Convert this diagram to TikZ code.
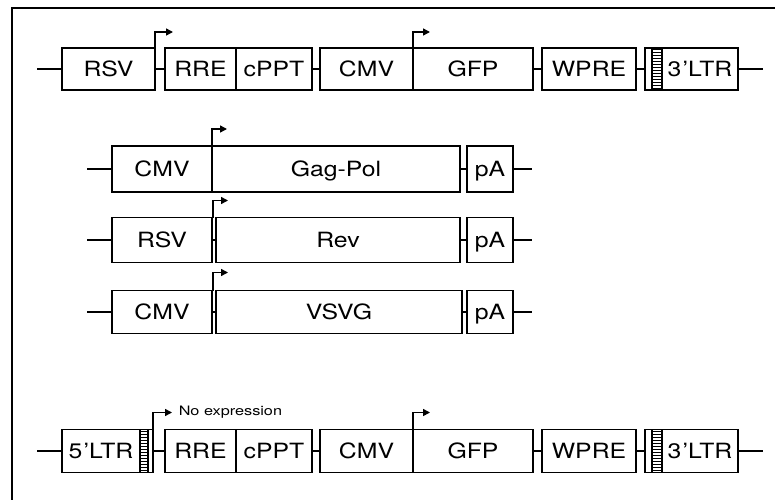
\documentclass[tikz,border=0pt]{standalone}
\usepackage{fontspec}
\usepackage{graphicx}
\usetikzlibrary{arrows.meta,calc}
\newfontfamily\boxfont{TeX Gyre Heros}
\newcommand\wtxt[1]{\scalebox{1.18}[1]{#1}}
\newcommand\wstxt[1]{\scalebox{1.25}[1]{#1}}
\tikzset{
  box/.style={draw, line width=1.5pt, inner sep=0pt, outer sep=0pt, minimum height=#1,
    font=\boxfont\fontsize{21}{21}\selectfont, text height=15pt, text depth=0pt},
  box/.default=43pt,
  wire/.style={line width=1.6pt},
  prom/.style={line width=1.5pt, -{Triangle[length=7pt,width=7pt]}},
  rung/.style={line width=1.1pt},
  frame/.style={line width=2.4pt}
}
\begin{document}
\begin{tikzpicture}[x=1pt,y=-1pt]
\useasboundingbox (0,0) rectangle (775,500);
\draw[frame] (775,8) -- (12,8) -- (12,500);

% ---------- Row 1 ----------
\node[box=42pt, minimum width=93pt] (rsvA) at (108.5,69) {\wtxt{RSV}};
\node[box=42pt, minimum width=71pt] (rreA) at (200.5,69) {\wtxt{RRE}};
\node[box=42pt, minimum width=76pt] (cpptA) at (274,69) {\wtxt{cPPT}};
\node[box=42pt, minimum width=93pt] (cmvA) at (366.5,69) {\wtxt{CMV}};
\node[box=42pt, minimum width=120pt] (gfpA) at (473,69) {\wtxt{GFP}};
\node[box=42pt, minimum width=94pt] (wpreA) at (589,69) {\wtxt{WPRE}};
\node[box=42pt, minimum width=17pt] (hatchA) at (653.5,69) {};
\node[box=42pt, minimum width=76pt] (ltrA) at (700,69) {\wtxt{3\kern1pt\textquoteright LTR}};
\coordinate (lA) at (37,69);
\coordinate (rA) at (763,69);
\draw[wire] (lA) -- (rsvA.west);
\draw[wire] (rsvA.east) -- (rreA.west);
\draw[wire] (cpptA.east) -- (cmvA.west);
\draw[wire] (gfpA.east) -- (wpreA.west);
\draw[wire] (wpreA.east) -- (hatchA.west);
\draw[wire] (ltrA.east) -- (rA);
\draw[line width=1.2pt] (652,48) -- (652,90);
\foreach \k in {0,...,13} \draw[rung] (652,{49.5+3*\k}) -- (662,{49.5+3*\k});
\draw[prom] (rsvA.north east) -- ++(0,-16) -- ++(18,0);
\draw[prom] (gfpA.north west) -- ++(0,-16) -- ++(17,0);

% ---------- Row 2 ----------
\node[box=46pt, minimum width=100pt] (cmvB) at (162,169) {\wtxt{CMV}};
\node[box=46pt, minimum width=248pt] (gagB) at (336,169) {\wtxt{Gag-Pol}};
\node[box=46pt, minimum width=46pt] (paB) at (490,169) {\wtxt{pA}};
\coordinate (lB) at (87,169);
\coordinate (rB) at (532,169);
\draw[wire] (lB) -- (cmvB.west);
\draw[wire] (gagB.east) -- (paB.west);
\draw[wire] (paB.east) -- (rB);
\draw[prom] (cmvB.north east) -- ++(0,-17) -- ++(15,0);

% ---------- Row 3 ----------
\node[box=45pt, minimum width=100pt] (rsvC) at (162,240) {\wtxt{RSV}};
\node[box=45pt, minimum width=244pt] (revC) at (338,240) {\wtxt{Rev}};
\node[box=45pt, minimum width=46pt] (paC) at (490,240) {\wtxt{pA}};
\coordinate (lC) at (87,240);
\coordinate (rC) at (532,240);
\draw[wire] (lC) -- (rsvC.west);
\draw[wire] (rsvC.east) -- (revC.west);
\draw[wire] (revC.east) -- (paC.west);
\draw[wire] (paC.east) -- (rC);
\draw[prom] ([xshift=1pt]rsvC.north east) -- ++(0,-17) -- ++(15,0);

% ---------- Row 4 ----------
\node[box=43pt, minimum width=100pt] (cmvD) at (162,312) {\wtxt{CMV}};
\node[box=43pt, minimum width=246pt] (vsvgD) at (339,312) {\wtxt{VSVG}};
\node[box=43pt, minimum width=46pt] (paD) at (490,312) {\wtxt{pA}};
\coordinate (lD) at (87,312);
\coordinate (rD) at (532,312);
\draw[wire] (lD) -- (cmvD.west);
\draw[wire] (cmvD.east) -- (vsvgD.west);
\draw[wire] (vsvgD.east) -- (paD.west);
\draw[wire] (paD.east) -- (rD);
\draw[prom] ([xshift=1pt]cmvD.north east) -- ++(0,-18) -- ++(15,0);

% ---------- Row 5 ----------
\node[box=43pt, minimum width=78pt] (ltrE) at (101,451) {\wtxt{5\kern1pt\textquoteright LTR}};
\node[box=43pt, minimum width=13pt] (hatchE) at (146.5,451) {};
\node[box=43pt, minimum width=71pt] (rreE) at (200.5,451) {\wtxt{RRE}};
\node[box=43pt, minimum width=76pt] (cpptE) at (274,451) {\wtxt{cPPT}};
\node[box=43pt, minimum width=93pt] (cmvE) at (366.5,451) {\wtxt{CMV}};
\node[box=43pt, minimum width=120pt] (gfpE) at (473,451) {\wtxt{GFP}};
\node[box=43pt, minimum width=94pt] (wpreE) at (589,451) {\wtxt{WPRE}};
\node[box=43pt, minimum width=17pt] (hatchF) at (653.5,451) {};
\node[box=43pt, minimum width=76pt] (ltrF) at (700,451) {\wtxt{3\kern1pt\textquoteright LTR}};
\coordinate (lE) at (37,451);
\coordinate (rE) at (763,451);
\draw[wire] (lE) -- (ltrE.west);
\draw[wire] (hatchE.east) -- (rreE.west);
\draw[wire] (cpptE.east) -- (cmvE.west);
\draw[wire] (gfpE.east) -- (wpreE.west);
\draw[wire] (wpreE.east) -- (hatchF.west);
\draw[wire] (ltrF.east) -- (rE);
\draw[line width=1.2pt] (148,430) -- (148,473);
\foreach \k in {0,...,13} \draw[rung] (140,{431.5+3*\k}) -- (148,{431.5+3*\k});
\draw[line width=1.2pt] (652,430) -- (652,473);
\foreach \k in {0,...,13} \draw[rung] (652,{431.5+3*\k}) -- (662,{431.5+3*\k});
\draw[prom] (hatchE.north east) -- ++(0,-17) -- ++(19,0)
  node[right=6pt, inner sep=0pt, font=\boxfont\fontsize{13}{13}\selectfont] (noexp) {\wstxt{No expression}};
\draw[prom] (gfpE.north west) -- ++(0,-17) -- ++(17,0);
\end{tikzpicture}
\end{document}
